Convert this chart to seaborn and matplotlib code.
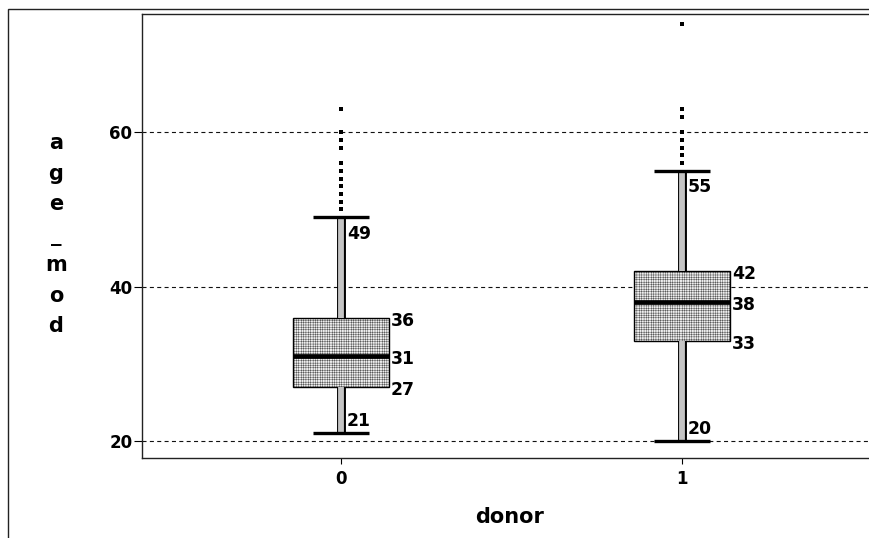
import matplotlib
matplotlib.use("Agg")
import matplotlib.pyplot as plt
import matplotlib.patheffects as pe
from matplotlib.patches import Rectangle
import numpy as np
import pandas as pd
import seaborn as sns

# Summary statistics of age_mod by donor group
groups = ["0", "1"]
q1 = [27, 33]
medians = [31, 38]
q3 = [36, 42]
whisker_low = [21, 20]
whisker_high = [49, 55]
outliers_0 = [50, 51, 52, 53, 54, 55, 56, 58, 59, 60, 63]
outliers_1 = [56, 57, 58, 59, 60, 62, 63, 74]
y_ticks = [20, 40, 60]

sns.set_theme(style="white")
plt.rcParams["font.family"] = ["DejaVu Sans"]
plt.rcParams["font.weight"] = "bold"
plt.rcParams["lines.scale_dashes"] = False
plt.rcParams["hatch.linewidth"] = 0.22

W, H = 869, 538
fig = plt.figure(figsize=(W / 100, H / 100), dpi=100)
fig.patch.set_facecolor("white")

# outer frame
fig.patches.append(Rectangle((8 / W, -0.1), 2.0, 1 - 9.5 / H + 0.1,
                             transform=fig.transFigure, fill=False,
                             edgecolor="#222222", linewidth=1.0))

ax = fig.add_axes([142 / W, 1 - 458 / H, (881 - 142) / W, (458 - 14) / H])
ax.set_facecolor("white")

positions = np.arange(len(groups))
stats = []
for i, g in enumerate(groups):
    stats.append(dict(label=g, q1=q1[i], med=medians[i], q3=q3[i],
                      whislo=whisker_low[i], whishi=whisker_high[i], fliers=[]))

ax.bxp(stats, positions=positions, widths=0.28, capwidths=0.165,
       patch_artist=True, showfliers=False,
       boxprops=dict(facecolor="#eeeeee", edgecolor="black", linewidth=1.0,
                     hatch="+++++++"),
       medianprops=dict(color="black", linewidth=3.4, solid_capstyle="butt"),
       whiskerprops=dict(color="#c4c4c4", linewidth=4.2, solid_capstyle="butt",
                         path_effects=[pe.Stroke(linewidth=6.4, foreground="black"),
                                       pe.Normal()]),
       capprops=dict(color="black", linewidth=2.4, solid_capstyle="butt"),
       zorder=3)

out_df = pd.DataFrame({
    "donor": [0] * len(outliers_0) + [1] * len(outliers_1),
    "age_mod": outliers_0 + outliers_1,
})
sns.scatterplot(data=out_df, x="donor", y="age_mod", marker="s", s=9,
                color="black", linewidth=0, ax=ax, zorder=4, legend=False)

# value labels
fs = 12.4
for i, x in enumerate(positions):
    half = 0.14
    for v in (q3[i], medians[i], q1[i]):
        ax.annotate(f"{v}", xy=(x + half, v), xytext=(2, -8),
                    textcoords="offset pixels", ha="left", va="baseline",
                    fontsize=fs, fontweight="bold", color="black")
    ax.annotate(f"{whisker_high[i]}", xy=(x, whisker_high[i]), xytext=(6, -21.5),
                textcoords="offset pixels", ha="left", va="baseline",
                fontsize=fs, fontweight="bold", color="black")
    ax.annotate(f"{whisker_low[i]}", xy=(x, whisker_low[i]), xytext=(6, 7),
                textcoords="offset pixels", ha="left", va="baseline",
                fontsize=fs, fontweight="bold", color="black")

ax.set_xlim(-0.5836, 1.5836)
ax.set_ylim(17.80, 75.33)
ax.set_xticks(positions)
ax.set_xticklabels(groups)
ax.set_yticks(y_ticks)
ax.set_yticklabels([str(t) for t in y_ticks])
ax.set_xlabel("")
ax.set_ylabel("")

ax.yaxis.grid(True, linestyle=(0, (2.9, 2.4)), color="#111111", linewidth=0.8)
ax.xaxis.grid(False)
ax.set_axisbelow(True)

ax.tick_params(axis="y", left=True, direction="out", length=6, width=0.8,
               pad=1, labelsize=12, colors="black")
ax.tick_params(axis="x", bottom=True, direction="out", length=4.5, width=0.8,
               pad=4.5, labelsize=12, colors="black")
for lab in ax.get_xticklabels() + ax.get_yticklabels():
    lab.set_fontweight("bold")

for side in ("top", "left", "bottom", "right"):
    ax.spines[side].set_visible(True)
    ax.spines[side].set_color("#222222")
    ax.spines[side].set_linewidth(1.0)

# axis titles
ylab = "age_mod"
for k, ch in enumerate(ylab):
    fig.text(56 / W, 1 - (149 + 30.5 * k) / H, ch, ha="center", va="baseline",
             fontsize=15, fontweight="bold", color="black")
fig.text(510 / W, 1 - 523 / H, "donor", ha="center", va="baseline",
         fontsize=15, fontweight="bold", color="black")

fig.savefig("out.png", dpi=100)
